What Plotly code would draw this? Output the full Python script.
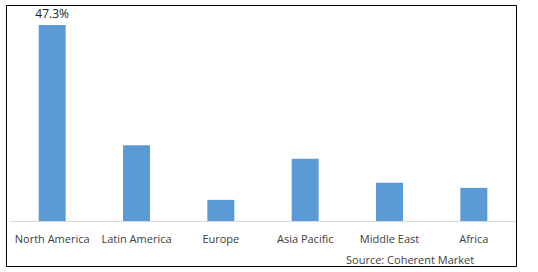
import plotly.graph_objects as go

categories = ["North America", "Latin America", "Europe", "Asia Pacific", "Middle East", "Africa"]
shares = [47.3, 18.3, 5.1, 15.0, 9.2, 8.0]
bar_labels = ["47.3%", "", "", "", "", ""]
source_text = "Source: Coherent Market"

W, H = 538, 272
ml, mr, mt, mb = 10, 22, 10, 51
pw, ph = W - ml - mr, H - mt - mb

def px_x(x):
    return (x - ml) / pw

def px_y(y):
    return (H - mb - y) / ph

fig = go.Figure(go.Bar(
    x=categories, y=shares, text=bar_labels, textposition="outside",
    constraintext="none",
    textfont=dict(family="Open Sans", size=12, color="#222222"),
    marker=dict(color="#5b9bd5", line=dict(width=0)),
    cliponaxis=False, hoverinfo="skip",
))

fig.update_layout(
    width=W, height=H, margin=dict(l=ml, r=mr, t=mt, b=mb),
    paper_bgcolor="white", plot_bgcolor="white",
    bargap=0.68, showlegend=False,
    font=dict(family="Open Sans", size=11, color="#404040"),
    xaxis=dict(showline=True, linecolor="#d9d9d9", linewidth=1, ticks="",
               showgrid=False, ticklabelstandoff=8,
               tickfont=dict(size=11, color="#404040")),
    yaxis=dict(range=[0, 50.9], visible=False, showgrid=False),
    shapes=[dict(type="rect", xref="paper", yref="paper",
                 x0=px_x(6.5), x1=px_x(516.5), y0=px_y(266.5), y1=px_y(5.5),
                 line=dict(color="black", width=1), fillcolor="rgba(0,0,0,0)")],
    annotations=[dict(text=source_text, xref="paper", yref="paper",
                      x=px_x(476), y=px_y(259), xanchor="right", yanchor="middle",
                      showarrow=False, font=dict(size=11, color="#404040"))],
)

fig.write_html("out.html")
